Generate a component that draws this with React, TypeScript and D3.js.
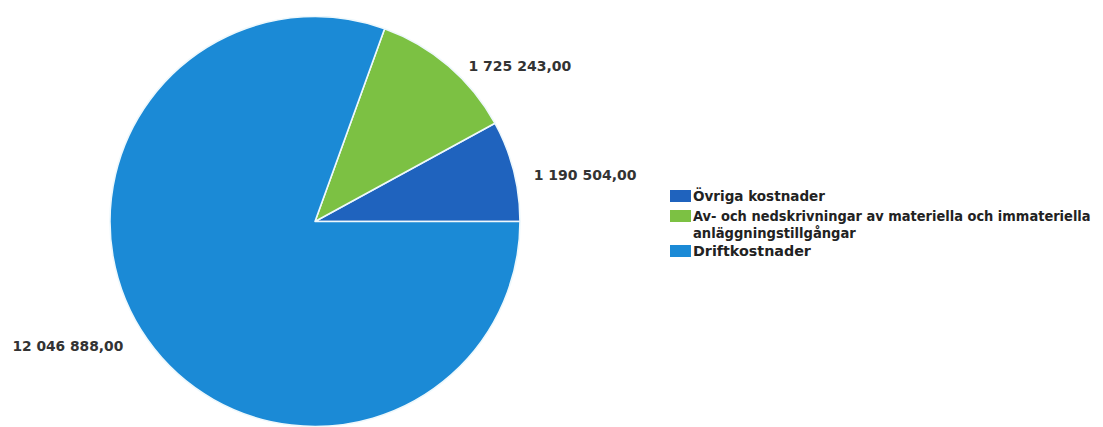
import React, { useLayoutEffect, useRef } from "react";
import * as d3 from "d3";

const categories = [
  "Övriga kostnader",
  "Av- och nedskrivningar av materiella och immateriella anläggningstillgångar",
  "Driftkostnader",
];
const values = [1190504, 1725243, 12046888];
const valueLabels = ["1 190 504,00", "1 725 243,00", "12 046 888,00"];
const legendLines = [
  ["Övriga kostnader"],
  ["Av- och nedskrivningar av materiella och immateriella", "anläggningstillgångar"],
  ["Driftkostnader"],
];
const colors = ["#1f63be", "#7cc143", "#1b8ad6"];

const W = 1103;
const H = 427;
const cx = 315;
const cy = 221.5;
const R = 205;

export default function App() {
  const svgRef = useRef<SVGSVGElement>(null);

  const pie = d3
    .pie<number>()
    .sort(null)
    .value((d) => d)
    .startAngle(Math.PI / 2)
    .endAngle(Math.PI / 2 - 2 * Math.PI);
  const arcs = pie(values);
  const arc = d3.arc<d3.PieArcDatum<number>>().innerRadius(0).outerRadius(R);
  const edge = d3.arc<d3.PieArcDatum<number>>().innerRadius(R).outerRadius(R);

  const font = "'DejaVu Sans', Verdana, sans-serif";
  const labelWidths = [103, 103, 111];
  const legendWidths = [[132], [398, 163], [118]];
  const legendY = [[196], [216, 233], [251]];

  useLayoutEffect(() => {
    const svg = d3.select(svgRef.current);
    svg.selectAll<SVGTextElement, unknown>("text.fit").each(function () {
      const el = this as SVGTextElement;
      const target = +(el.getAttribute("data-w") || 0);
      const anchorX = +(el.getAttribute("data-x") || 0);
      const anchorY = +(el.getAttribute("data-y") || 0);
      const anchor = el.getAttribute("text-anchor") || "start";
      const natural = el.getComputedTextLength();
      const s = natural > 0 ? target / natural : 1;
      el.setAttribute("x", "0");
      el.setAttribute("y", "0");
      el.setAttribute(
        "transform",
        `translate(${anchorX},${anchorY}) scale(${s},1)`
      );
      if (anchor === "end") el.setAttribute("text-anchor", "end");
    });
  }, []);

  return (
    <svg
      ref={svgRef}
      width={W}
      height={H}
      style={{ position: "absolute", left: 0, top: 0, background: "#fff" }}
    >
      <g>
        {arcs.map((a, i) => (
          <path
            key={i}
            transform={`translate(${cx},${cy})`}
            d={arc(a) || ""}
            fill={colors[i]}
            stroke="#eef8fc"
            strokeWidth={1.6}
            strokeLinejoin="round"
          />
        ))}
        {arcs.map((a, i) => {
          const [px, py] = edge.centroid(a);
          const right = px >= 0;
          const x = cx + (right ? px + 20 : px - 24);
          const y = cy + py + (right ? (py > -100 ? 4 : 0) : 7);
          return (
            <text
              key={i}
              className="fit"
              data-w={labelWidths[i]}
              data-x={x}
              data-y={y}
              x={x}
              y={y}
              dy="0.35em"
              textAnchor={right ? "start" : "end"}
              fontFamily={font}
              fontWeight="bold"
              fontSize={13.5}
              fill="#333"
            >
              {valueLabels[i]}
            </text>
          );
        })}
      </g>
      <g>
        {categories.map((c, i) => (
          <g key={c}>
            <rect
              x={670}
              y={legendY[i][0] - 6}
              width={21}
              height={12}
              fill={colors[i]}
            />
            {legendLines[i].map((line, j) => (
              <text
                key={j}
                className="fit"
                data-w={legendWidths[i][j]}
                data-x={693}
                data-y={legendY[i][j]}
                x={693}
                y={legendY[i][j]}
                dy="0.35em"
                fontFamily={font}
                fontWeight="bold"
                fontSize={14}
                fill="#222"
              >
                {line}
              </text>
            ))}
          </g>
        ))}
      </g>
    </svg>
  );
}
